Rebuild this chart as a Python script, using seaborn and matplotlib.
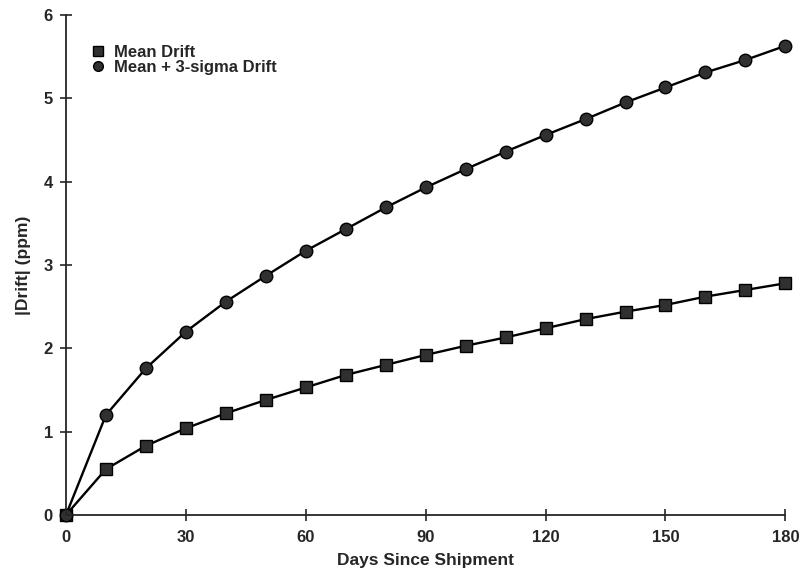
import numpy as np
import pandas as pd
import matplotlib
matplotlib.use("Agg")
import matplotlib.pyplot as plt
import seaborn as sns

days = [0, 10, 20, 30, 40, 50, 60, 70, 80, 90, 100, 110, 120, 130, 140, 150, 160, 170, 180]
mean_drift = [0.0, 0.55, 0.83, 1.04, 1.22, 1.38, 1.53, 1.68, 1.80, 1.92, 2.03, 2.13,
              2.24, 2.35, 2.44, 2.52, 2.62, 2.70, 2.78]
sigma_drift = [0.0, 1.20, 1.76, 2.20, 2.56, 2.87, 3.17, 3.43, 3.69, 3.93, 4.15, 4.36,
               4.56, 4.75, 4.95, 5.13, 5.31, 5.46, 5.63]
series_names = ["Mean Drift", "Mean + 3-sigma Drift"]
x_ticks = [0, 30, 60, 90, 120, 150, 180]
y_ticks = [0, 1, 2, 3, 4, 5, 6]

sns.set_style("ticks")
plt.rcParams["font.family"] = ["Liberation Sans", "DejaVu Sans"]

df = pd.DataFrame({"days": days * 2,
                   "drift": mean_drift + sigma_drift,
                   "series": [series_names[0]] * len(days) + [series_names[1]] * len(days)})

fig = plt.figure(figsize=(8.02, 5.76), dpi=100)
ax = fig.add_axes([0.0823, 0.106, 0.897, 0.868])

markers = {series_names[0]: "s", series_names[1]: "o"}
sizes = {series_names[0]: 8.5, series_names[1]: 9}
for name in series_names:
    sub = df[df["series"] == name]
    sns.lineplot(data=sub, x="days", y="drift", ax=ax, color="black", linewidth=1.7,
                 marker=markers[name], markersize=sizes[name], markerfacecolor="#303030",
                 markeredgecolor="black", markeredgewidth=1.0, clip_on=False, label=None)

ax.set_xlim(0, 180)
ax.set_ylim(0, 6)
ax.set_xticks(x_ticks)
ax.set_yticks(y_ticks)
ax.tick_params(direction="inout", length=9, width=1.2, labelsize=12)
ax.tick_params(axis="x", pad=6)
ax.tick_params(axis="y", pad=5)
for lab in ax.get_xticklabels() + ax.get_yticklabels():
    lab.set_fontweight("bold")
sns.despine(ax=ax)
ax.spines["left"].set_linewidth(1.3)
ax.spines["bottom"].set_linewidth(1.3)

ax.set_xlabel("Days Since Shipment", fontsize=12.5, fontweight="bold", labelpad=6)
ax.set_ylabel("|Drift| (ppm)", fontsize=12.5, fontweight="bold", labelpad=9)

handles = [plt.Line2D([], [], linestyle="none", marker=markers[n], markersize=7,
                      markerfacecolor="#303030", markeredgecolor="black") for n in series_names]
ax.legend(handles, series_names, loc="upper left", bbox_to_anchor=(0.012, 0.97),
          frameon=False, handletextpad=0.45, labelspacing=0.0,
          handlelength=1.0, prop={"weight": "bold", "size": 12})

fig.savefig("out.png", dpi=100)
